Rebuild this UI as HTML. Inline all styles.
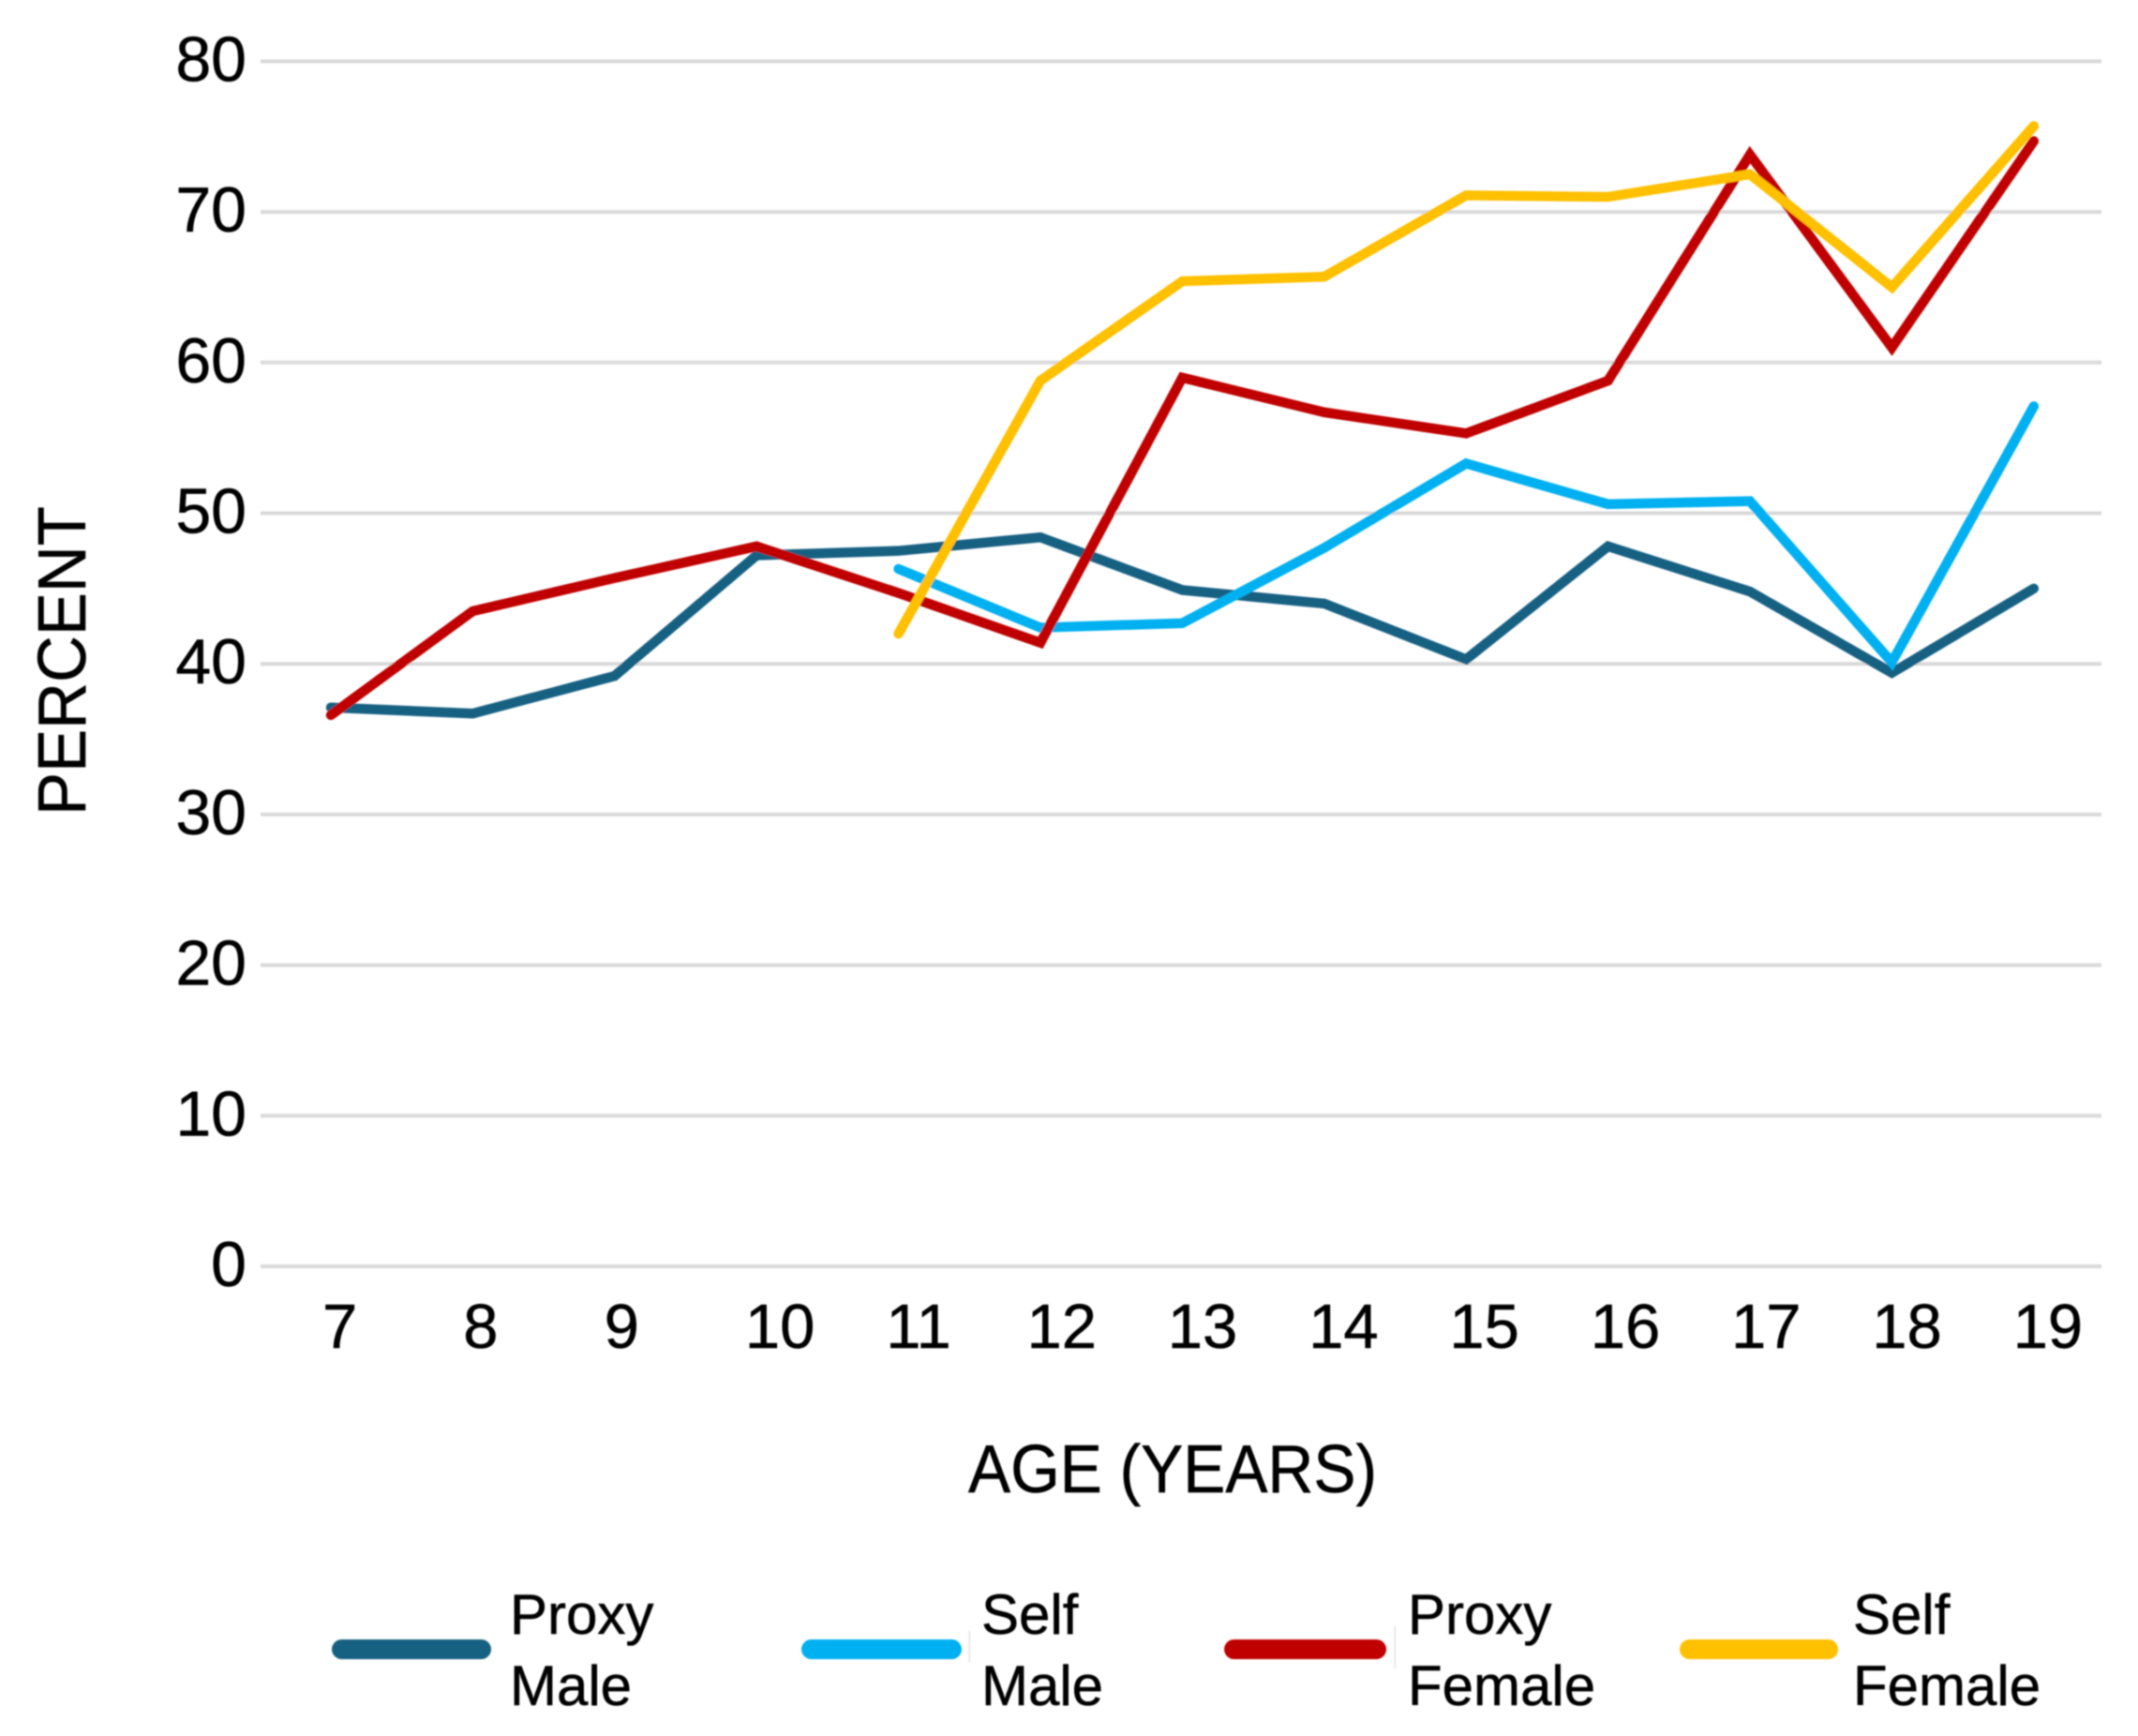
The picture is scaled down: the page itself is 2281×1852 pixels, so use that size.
<!DOCTYPE html>
<html>
<head>
<meta charset="utf-8">
<title>Percent by age chart</title>
<style>
  html, body { margin: 0; padding: 0; background: #fff; }
  svg { display: block; }
  text { font-family: "Liberation Sans", sans-serif; fill: #000; stroke: #000; stroke-width: 0.5px; }
</style>
</head>
<body>
<svg id="chart" xmlns="http://www.w3.org/2000/svg" width="2281" height="1852" viewBox="0 0 2281 1852">
  <defs>
    <filter id="soft" x="-2%" y="-2%" width="104%" height="104%">
      <feGaussianBlur stdDeviation="0.7"/>
    </filter>
  </defs>
  <rect x="0" y="0" width="2281" height="1852" fill="#ffffff"/>
  <g filter="url(#soft)">
  <g id="grid"></g>
  <g id="y-ticks"></g>
  <g id="x-ticks"></g>
  <g id="series"></g>

  <text transform="translate(91 870) rotate(-90)" font-size="72" textLength="330" lengthAdjust="spacingAndGlyphs">PERCENT</text>
  <text x="1033" y="1592" font-size="72" textLength="436" lengthAdjust="spacingAndGlyphs">AGE (YEARS)</text>

  <g>
    <g>
      <rect x="354" y="1749" width="170" height="21" rx="10.5" fill="#156082"/>
      <text font-size="60"><tspan x="544" y="1743">Proxy</tspan><tspan x="544" y="1819">Male</tspan></text>
    </g>
    <g>
      <rect x="855" y="1749" width="171" height="21" rx="10.5" fill="#00b0f0"/>
      <rect x="1033.5" y="1740" width="1.5" height="33" fill="#e2e2e2"/>
      <text font-size="60"><tspan x="1047" y="1743">Self</tspan><tspan x="1047" y="1819">Male</tspan></text>
    </g>
    <g>
      <rect x="1306" y="1749" width="173" height="21" rx="10.5" fill="#c00000"/>
      <rect x="1487.5" y="1735" width="1.5" height="45" fill="#e2e2e2"/>
      <text font-size="60"><tspan x="1502" y="1743">Proxy</tspan><tspan x="1502" y="1819">Female</tspan></text>
    </g>
    <g>
      <rect x="1792" y="1749" width="169" height="21" rx="10.5" fill="#ffc000"/>
      <text font-size="60"><tspan x="1977" y="1743">Self</tspan><tspan x="1977" y="1819">Female</tspan></text>
    </g>
  </g>
  </g>
</svg>
<script>
const ages = [7, 8, 9, 10, 11, 12, 13, 14, 15, 16, 17, 18, 19];
const yTickValues = [0, 10, 20, 30, 40, 50, 60, 70, 80];
const proxyMale = [37.1, 36.7, 39.2, 47.2, 47.5, 48.4, 44.9, 44.0, 40.3, 47.8, 44.8, 39.4, 45.0];
const selfMale = [null, null, null, null, 46.3, 42.4, 42.7, 47.7, 53.3, 50.6, 50.8, 40.1, 57.1];
const proxyFemale = [36.6, 43.5, 45.7, 47.8, 44.7, 41.4, 59.0, 56.7, 55.3, 58.8, 73.8, 61.0, 74.7];
const selfFemale = [null, null, null, null, 42.0, 58.8, 65.4, 65.7, 71.1, 71.0, 72.5, 65.0, 75.7];

const SVG_NS = 'http://www.w3.org/2000/svg';

function xScale(age) {
  return 353 + (age - 7) * 151.4;
}
function xLabelScale(age) {
  return 344 + (age - 7) * 150.3;
}
function yScale(value) {
  return 1351 - value * 16.07;
}

const gridGroup = document.getElementById('grid');
const yTickGroup = document.getElementById('y-ticks');
const xTickGroup = document.getElementById('x-ticks');
const seriesGroup = document.getElementById('series');

yTickValues.forEach(function (tick) {
  const line = document.createElementNS(SVG_NS, 'line');
  
  
  line.setAttribute('x1', 278);
  line.setAttribute('x2', 2242);
  line.setAttribute('y1', yScale(tick));
  line.setAttribute('y2', yScale(tick));
  line.setAttribute('stroke', '#d9d9d9');
  line.setAttribute('stroke-width', 4);
  gridGroup.appendChild(line);

  const label = document.createElementNS(SVG_NS, 'text');
  
  
  label.setAttribute('x', 263);
  label.setAttribute('y', yScale(tick) + 21);
  label.setAttribute('text-anchor', 'end');
  label.setAttribute('font-size', 68);
  label.textContent = tick;
  yTickGroup.appendChild(label);
});

ages.forEach(function (age) {
  const label = document.createElementNS(SVG_NS, 'text');
  
  
  label.setAttribute('x', xLabelScale(age));
  label.setAttribute('y', 1438);
  label.setAttribute('font-size', 67);
  label.textContent = age;
  xTickGroup.appendChild(label);
});

function drawSeries(values, color, name) {
  let points = '';
  values.forEach(function (value, i) {
    if (value !== null) {
      points += xScale(ages[i]) + ',' + yScale(value) + ' ';
    }
  });
  const line = document.createElementNS(SVG_NS, 'polyline');
  
  
  line.setAttribute('points', points.trim());
  line.setAttribute('fill', 'none');
  line.setAttribute('stroke', color);
  line.setAttribute('stroke-width', 10.5);
  line.setAttribute('stroke-linecap', 'round');
  line.setAttribute('stroke-linejoin', 'miter');
  seriesGroup.appendChild(line);
}

drawSeries(proxyMale, '#156082', 'line-proxy-male');
drawSeries(selfMale, '#00b0f0', 'line-self-male');
drawSeries(proxyFemale, '#c00000', 'line-proxy-female');
drawSeries(selfFemale, '#ffc000', 'line-self-female');
</script>
</body>
</html>
